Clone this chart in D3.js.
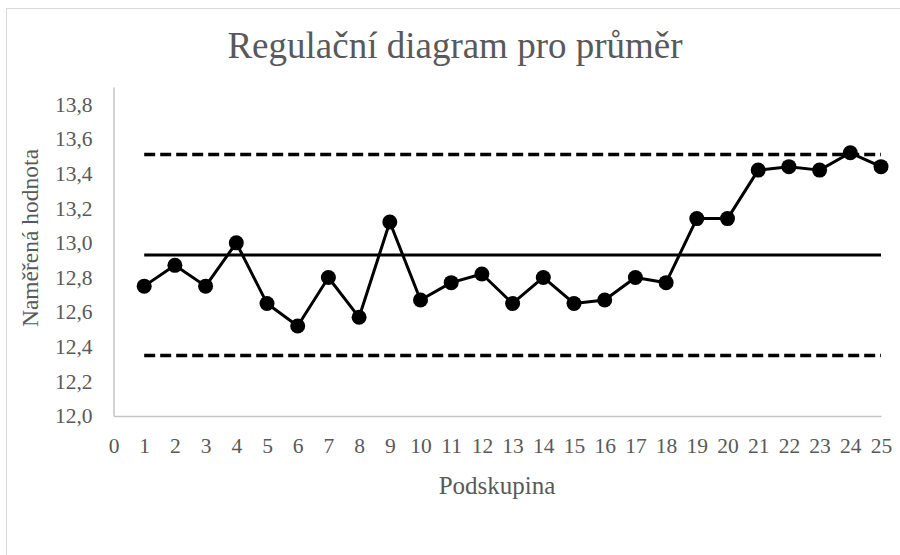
<!DOCTYPE html>
<html>
<head>
<meta charset="utf-8">
<script src="https://cdn.jsdelivr.net/npm/d3@7"></script>
<style>
  html, body { margin: 0; padding: 0; background: #fff; }
  svg text { font-family: "Liberation Serif", "Times New Roman", serif; fill: #595959; }
</style>
</head>
<body>
<svg id="chart" width="900" height="555"></svg>
<script>
const subgroups = d3.range(1, 26);
const means = [12.75, 12.87, 12.75, 13.00, 12.65, 12.52, 12.80, 12.57, 13.12, 12.67,
               12.77, 12.82, 12.65, 12.80, 12.65, 12.67, 12.80, 12.77, 13.14, 13.14,
               13.42, 13.44, 13.42, 13.52, 13.44];
const centerLine = 12.93;
const upperLimit = 13.51;
const lowerLimit = 12.35;
const xTicks = d3.range(0, 26);
const yTicks = [12.0, 12.2, 12.4, 12.6, 12.8, 13.0, 13.2, 13.4, 13.6, 13.8];
const title = "Regulační diagram pro průměr";
const xTitle = "Podskupina";
const yTitle = "Naměřená hodnota";

const svg = d3.select("#chart");
const W = 900, H = 555;
const m = { left: 113.5, right: 881, top: 87, bottom: 416 };

// outer chart border
svg.append("rect").attr("x", 6.5).attr("y", 8.5).attr("width", W + 20).attr("height", H + 20)
  .attr("fill", "none").attr("stroke", "#d9d9d9").attr("stroke-width", 1);

const x = d3.scaleLinear().domain([0, 25]).range([m.left, m.right]);
const y = d3.scaleLinear().domain([12.0, 13.9]).range([m.bottom, m.top]);

// axes
const xAxis = d3.axisBottom(x).tickValues(xTicks).tickSize(0).tickPadding(22).tickFormat(d3.format("d"));
const gx = svg.append("g").attr("transform", `translate(0,${m.bottom})`).call(xAxis);
gx.select(".domain").attr("stroke", "#c6c6c6").attr("stroke-width", 1.5);
gx.selectAll("text").attr("font-size", 21.5).attr("fill", "#595959")
  .style("font-family", '"Liberation Serif", serif');

const fmt = d => d3.format(".1f")(d).replace(".", ",");
const yAxis = d3.axisLeft(y).tickValues(yTicks).tickSize(0).tickPadding(21).tickFormat(fmt);
const gy = svg.append("g").attr("transform", `translate(${m.left},0)`).call(yAxis);
gy.select(".domain").attr("stroke", "#c6c6c6").attr("stroke-width", 1.5);
gy.selectAll("text").attr("font-size", 21.5).attr("fill", "#595959")
  .style("font-family", '"Liberation Serif", serif');

// control lines
const first = subgroups[0], last = subgroups[subgroups.length - 1];
svg.append("line")
  .attr("x1", x(first)).attr("x2", x(last)).attr("y1", y(centerLine)).attr("y2", y(centerLine))
  .attr("stroke", "#000").attr("stroke-width", 3);
[upperLimit, lowerLimit].forEach(v => {
  svg.append("line")
    .attr("x1", x(first)).attr("x2", x(last)).attr("y1", y(v)).attr("y2", y(v))
    .attr("stroke", "#000").attr("stroke-width", 3.5)
    .attr("stroke-dasharray", "11,5");
});

// series
const data = subgroups.map((s, i) => ({ s, v: means[i] }));
svg.append("path").datum(data)
  .attr("fill", "none").attr("stroke", "#000").attr("stroke-width", 3)
  .attr("stroke-linejoin", "round")
  .attr("d", d3.line().x(d => x(d.s)).y(d => y(d.v)));
svg.selectAll("circle.pt").data(data).enter().append("circle")
  .attr("class", "pt").attr("cx", d => x(d.s)).attr("cy", d => y(d.v)).attr("r", 7.5)
  .attr("fill", "#000");

// titles
svg.append("text").attr("x", 455).attr("y", 58)
  .attr("text-anchor", "middle").attr("font-size", 37).text(title);
svg.append("text").attr("x", 497).attr("y", 494)
  .attr("text-anchor", "middle").attr("font-size", 25).text(xTitle);
svg.append("text").attr("transform", "translate(38,238) rotate(-90)")
  .attr("text-anchor", "middle").attr("font-size", 23.5).text(yTitle);
</script>
</body>
</html>
